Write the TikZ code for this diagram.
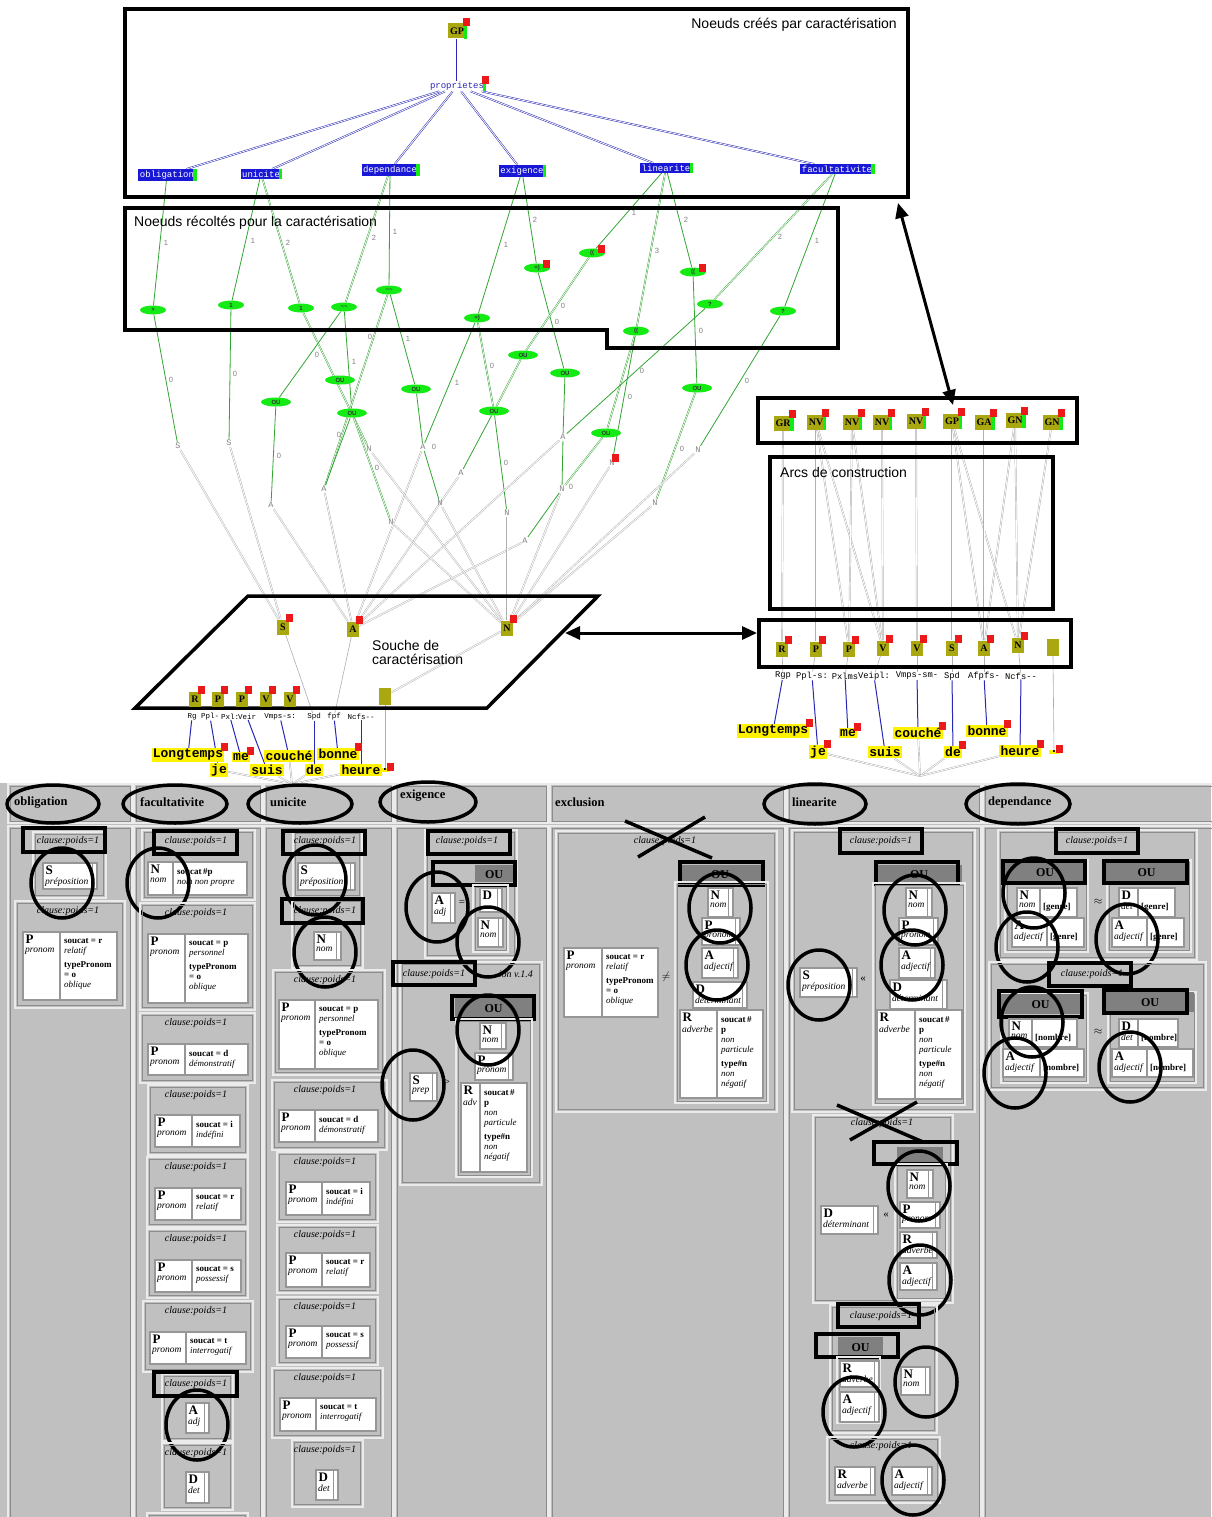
\documentclass[tikz,border=0pt]{standalone}
\usepackage{fontspec}
\setmainfont{Liberation Serif}
\setsansfont{Liberation Sans}
\setmonofont{Liberation Mono}
\usetikzlibrary{arrows.meta,shapes.geometric,calc}
\definecolor{olivebox}{RGB}{170,168,16}
\definecolor{bluebox}{RGB}{24,24,214}
\definecolor{nodegreen}{RGB}{20,235,20}
\definecolor{edgegreen}{RGB}{50,165,50}
\definecolor{badgered}{RGB}{235,25,25}
\definecolor{panelbg}{RGB}{192,192,192}
\definecolor{propblue}{RGB}{40,40,180}
\definecolor{greyline}{RGB}{175,175,175}
\definecolor{ougrey}{RGB}{128,128,128}
\definecolor{lightedge}{RGB}{235,235,235}
\definecolor{darkedge}{RGB}{140,140,140}
\definecolor{catedge}{RGB}{150,150,150}
\pgfdeclarelayer{bg}
\pgfsetlayers{bg,main}
\newcount\nc
\newcommand\nx{\global\advance\nc by 1\relax}
\tikzset{
 frame/.style={draw=black, line width=3.5pt},
 olv/.style={fill=olivebox, font=\bfseries\fontsize{10}{10}\selectfont, inner sep=2pt, minimum height=15pt, minimum width=12pt},
 prop/.style={text=propblue, font=\ttfamily\fontsize{9}{9}\selectfont, inner sep=1pt},
 bbox/.style={fill=bluebox, text=white, font=\ttfamily\fontsize{9}{9}\selectfont, inner sep=1.5pt},
 gnode/.style={ellipse, fill=nodegreen, minimum width=26pt, minimum height=9pt, inner sep=0pt, font=\sffamily\bfseries\fontsize{6}{6}\selectfont, text=black!80},
 ou/.style={gnode, minimum width=30pt},
 gletter/.style={text=gray, font=\ttfamily\fontsize{8.5}{9}\selectfont, inner sep=1pt},
 elab/.style={text=gray, font=\sffamily\fontsize{7.5}{7.5}\selectfont, inner sep=0pt},
 propl/.style={draw=propblue, line width=0.5pt, double=white, double distance=0.8pt},
 gedge/.style={draw=edgegreen, line width=0.8pt},
 gedged/.style={draw=edgegreen, line width=0.45pt, double=white, double distance=0.7pt},
 grline/.style={draw=greyline, line width=0.45pt, double=white, double distance=0.8pt},
 grsingle/.style={draw=greyline, line width=0.6pt},
 tagl/.style={draw=propblue, line width=1pt},
 title/.style={font=\sffamily\fontsize{14}{16}\selectfont, inner sep=0pt},
 word/.style={fill=yellow, font=\ttfamily\bfseries\fontsize{13}{13}\selectfont, inner sep=1.2pt},
 tagL/.style={font=\ttfamily\fontsize{7.5}{8}\selectfont, inner sep=0pt},
 tagR/.style={font=\ttfamily\fontsize{8.8}{9}\selectfont, inner sep=0pt},
 dblarrow/.style={draw=black, line width=3pt, {Triangle[length=15pt,width=13pt]}-{Triangle[length=15pt,width=13pt]}},
 catst/.style={fill=white, draw=catedge, line width=1.6pt},
 clst/.style={draw=lightedge, line width=1.2pt},
 clin/.style={draw=darkedge, line width=0.8pt},
 hl/.style={draw=black, line width=3.2pt},
 circ/.style={draw=black, line width=3.5pt},
 xcross/.style={draw=black, line width=3.5pt},
 cll/.style={font=\itshape\fontsize{10}{11}\selectfont, inner sep=0pt},
 catL/.style={font=\bfseries\fontsize{13}{13}\selectfont, inner sep=0pt},
 catW/.style={font=\itshape\fontsize{9.5}{10}\selectfont, inner sep=0pt},
 catR/.style={font=\fontsize{9}{10}\selectfont, align=left, inner sep=0pt},
 hdr/.style={font=\bfseries\fontsize{12.5}{13}\selectfont, inner sep=0pt},
 ouT/.style={font=\bfseries\fontsize{12}{12}\selectfont, inner sep=0pt},
 sym/.style={font=\fontsize{11}{11}\selectfont, inner sep=0pt}
}
\newcommand\bev[4]{\draw[lightedge, line width=1.2pt] (#1,#2) rectangle (#3,#4); \draw[darkedge, line width=0.8pt] ({#1+2},{#2+2}) rectangle ({#3-2},{#4-2});}
\newcommand\clbox[4]{\draw[clst] (#1,#2) rectangle (#3,#4); \draw[clin] ({#1+2.5},{#2+2.5}) rectangle ({#3-2.5},{#4-2.5});}
\newcommand\inbox[4]{\draw[clst] (#1,#2) rectangle (#3,#4); \draw[clin] ({#1+2},{#2+2}) rectangle ({#3-2},{#4-2});}
\newcommand\cllab[2]{\nx\node[cll] (c\the\nc) at (#1,#2) {clause:poids=1};}
\newcommand\hlr[4]{\draw[hl] (#1,#2) rectangle (#3,#4);}
\newcommand\circl[2]{\draw[circ] (#1,#2) ellipse [x radius=31pt, y radius=35pt];}
\newcommand\catbase[5]{\draw[catst] (#1,#2) rectangle (#3,#4); \draw[catedge, line width=1pt] ({#3-4.5},#2) -- ({#3-4.5},#4); \nx\node[catL, anchor=north west] (c\the\nc) at ({#1+2.5},{#2+2.5}) {#5};}
\newcommand\cat[6]{\catbase{#1}{#2}{#3}{#4}{#5}\nx\node[catW, anchor=north west] (c\the\nc) at ({#1+2},{#2+15}) {#6};}
\newcommand\cats[8]{\draw[catst] (#1,#2) rectangle (#3,#4); \draw[catedge, line width=1.6pt] (#5,#2) -- (#5,#4); \nx\node[catL, anchor=north west] (c\the\nc) at ({#1+2.5},{#2+3}) {#6}; \nx\node[catW, anchor=north west] (c\the\nc) at ({#1+2},{#2+16}) {#7}; \nx\node[catR, anchor=north west] (c\the\nc) at ({#5+4},{#2+6}) {#8};}
\newcommand\catg[8]{\draw[catst] (#1,#2) rectangle (#3,#4); \draw[catedge, line width=1.6pt] (#5,#2) -- (#5,#4); \nx\node[catL, anchor=north west] (c\the\nc) at ({#1+2.5},{#2+2.5}) {#6}; \nx\node[catW, anchor=north west] (c\the\nc) at ({#1+2},{#2+15}) {#7}; \nx\node[catR, anchor=west] (c\the\nc) at ({#5+3},{(#2+#4)/2+5}) {\textbf{#8}};}
\newcommand\ouh[5]{\fill[ougrey] (#1,#2) rectangle (#3,#4); \nx\node[ouT] (c\the\nc) at ({(#1+#3)/2},{(#2+#4)/2+1}) {#5};}
\newcommand\badge[1]{\fill[badgered] ($(#1.north east)+(-3.5,3)$) rectangle ++(7,-8);}
\newcommand\gbar[1]{\fill[nodegreen] ($(#1.north east)+(-2.5,0)$) rectangle ($(#1.south east)+(0.8,0)$);}
\newcommand\Rneg{\textbf{soucat\,\#}\\\textbf{p}\\\textit{non}\\\textit{particule}\\[4pt]\textbf{type\#n}\\\textit{non}\\\textit{négatif}}
\newcommand\Ppers[2]{\textbf{soucat = #1}\\\textit{#2}\\[4pt]\textbf{typePronom}\\\textbf{= o}\\\textit{oblique}}
\newcommand\Psimple[2]{\textbf{soucat = #1}\\\textit{#2}}
\begin{document}
\begin{tikzpicture}[x=1pt,y=-1pt]
\useasboundingbox (0,0) rectangle (1211,1517);
\begin{pgfonlayer}{bg}
\fill[white] (0,0) rectangle (1211,783);
\end{pgfonlayer}

% ===== frames and titles =====
\draw[frame] (125,9) rectangle (908,197);
\node[title, anchor=east] (t1) at (897,25) {Noeuds créés par caractérisation};
\draw[frame] (125,208) -- (838,208) -- (838,348) -- (607,348) -- (607,330) -- (125,330) -- cycle;
\node[title, anchor=west] (t2) at (134,223) {Noeuds récoltés pour la caractérisation};
\draw[frame] (248,596) -- (598,596) -- (487,708) -- (135,708) -- cycle;
\node[title, anchor=west, align=left, font=\sffamily\fontsize{14}{14}\selectfont] (t3) at (372,652) {Souche de\\caractérisation};
\draw[frame] (758,398) rectangle (1077,443);
\draw[frame] (770,457) rectangle (1053,609);
\node[title, anchor=west] (t4) at (780,472) {Arcs de construction};
\draw[frame] (759,620) rectangle (1071,667);
\coordinate (ar1a) at (898,203); \coordinate (ar1b) at (953,405);
\draw[dblarrow] (ar1a) -- (ar1b);
\coordinate (ar2a) at (565,633); \coordinate (ar2b) at (757,633);
\draw[dblarrow] (ar2a) -- (ar2b);

% ===== created nodes =====
\node[olv] (gp) at (457,31) {GP}; \gbar{gp}\badge{gp}
\node[prop] (prop) at (457,86) {proprietes}; \gbar{prop}\badge{prop}
\node[bbox] (ob) at (167,175) {obligation}; \gbar{ob}
\node[bbox] (un) at (261,174) {unicite}; \gbar{un}
\node[bbox] (dp) at (390,170) {dependance}; \gbar{dp}
\node[bbox] (ex) at (522,171) {exigence}; \gbar{ex}
\node[bbox] (li) at (666,168) {linearite}; \gbar{li}
\node[bbox] (fa) at (837,169) {facultativite}; \gbar{fa}

% ===== harvested nodes =====
\node[gnode] (g1) at (153,310) {+};
\node[gnode] (g2) at (231,305) {1};
\node[gnode] (g3) at (301,308) {1};
\node[gnode] (g4) at (344,307) {\textasciitilde\textasciitilde};
\node[gnode] (g5) at (389,290) {\textasciitilde\textasciitilde};
\node[gnode] (g6) at (477,318) {=)};
\node[gnode] (g7) at (537,268) {=)}; \badge{g7}
\node[gnode] (g8) at (592,253) {((}; \badge{g8}
\node[gnode] (g9) at (693,272) {((}; \badge{g9}
\node[gnode] (g10) at (710,304) {?};
\node[gnode] (g11) at (783,311) {?};
\node[gnode] (g12) at (636,331) {((};
\node[ou] (o1) at (523,355) {OU};
\node[ou] (o2) at (565,373) {OU};
\node[ou] (o3) at (340,380) {OU};
\node[ou] (o4) at (416,389) {OU};
\node[ou] (o5) at (276,402) {OU};
\node[ou] (o6) at (352,413) {OU};
\node[ou] (o7) at (494,411) {OU};
\node[ou] (o8) at (697,388) {OU};
\node[ou] (o9) at (606,433) {OU};
\node[gletter] (s1) at (178,446) {S};
\node[gletter] (s2) at (229,443) {S};
\node[gletter] (a1) at (271,505) {A};
\node[gletter] (a2) at (324,489) {A};
\node[gletter] (a3) at (423,447) {A};
\node[gletter] (a4) at (461,473) {A};
\node[gletter] (a5) at (563,437) {A};
\node[gletter] (a6) at (525,541) {A};
\node[gletter] (n1) at (369,449) {N};
\node[gletter] (n2) at (391,522) {N};
\node[gletter] (n3) at (440,503) {N};
\node[gletter] (n4) at (507,513) {N};
\node[gletter] (n5) at (562,489) {N};
\node[gletter] (n6) at (612,463) {N}; \badge{n6}
\node[gletter] (n7) at (698,450) {N};
\node[gletter] (n8) at (655,503) {N};
\foreach \x/\y/\t [count=\i] in {166/243/1, 253/241/1, 288/243/2, 374/238/2, 395/232/1, 506/245/1, 535/220/2, 634/213/1, 657/251/3, 686/220/2, 780/237/2, 817/241/1, 171/380/0, 235/374/0, 317/355/0, 370/337/0, 408/339/1, 354/362/1, 563/306/0, 557/322/0, 492/366/0, 457/383/1, 642/371/0, 630/397/0, 701/331/0, 747/381/0, 339/435/0, 682/449/0, 279/456/0, 377/468/0, 434/447/0, 506/463/0, 571/487/0}
  \node[elab] (lab\i) at (\x,\y) {\t};

% ===== souche =====
\node[olv] (sS) at (283,627) {S}; \badge{sS}
\node[olv] (sA) at (353,629) {A}; \badge{sA}
\node[olv] (sN) at (507,628) {N}; \badge{sN}
\node[olv] (sR) at (195,699) {R}; \badge{sR}
\node[olv] (sP1) at (218,699) {P}; \badge{sP1}
\node[olv] (sP2) at (242,699) {P}; \badge{sP2}
\node[olv] (sV1) at (266,699) {V}; \badge{sV1}
\node[olv] (sV2) at (290,699) {V}; \badge{sV2}
\fill[olivebox] (379,688) rectangle (391,705);
\coordinate (sDot) at (385,696);
\node[tagL] (lt1) at (192,717) {Rg};
\node[tagL] (lt2) at (210,717) {Ppl-};
\node[tagL] (lt3) at (230,717) {Pxl:};
\node[tagL] (lt4) at (247,717) {Veir};
\node[tagL] (lt5) at (280,717) {Vmps-s:};
\node[tagL] (lt6) at (314,717) {Spd};
\node[tagL] (lt7) at (334,717) {fpf};
\node[tagL] (lt8) at (361,717) {Ncfs--};
\node[word] (lw1) at (188,755) {Longtemps}; \badge{lw1}
\node[word] (lw3) at (241,757) {me}; \badge{lw3}
\node[word] (lw5) at (289,756) {couché};
\node[word] (lw7) at (338,754) {bonne}; \badge{lw7}
\node[word] (lw2) at (219,770) {je};
\node[word] (lw4) at (267,770) {suis};
\node[word] (lw6) at (314,770) {de};
\node[word] (lw8) at (361,770) {heure};
\node[word] (lw9) at (385,770) {.}; \badge{lw9}

% ===== right side =====
\node[olv] (tGR) at (783,423) {GR}; \gbar{tGR}\badge{tGR}
\node[olv] (tNV1) at (816,422) {NV}; \gbar{tNV1}\badge{tNV1}
\node[olv] (tNV2) at (852,422) {NV}; \gbar{tNV2}\badge{tNV2}
\node[olv] (tNV3) at (882,422) {NV}; \gbar{tNV3}\badge{tNV3}
\node[olv] (tNV4) at (916,421) {NV}; \gbar{tNV4}\badge{tNV4}
\node[olv] (tGP) at (952,421) {GP}; \gbar{tGP}\badge{tGP}
\node[olv] (tGA) at (984,422) {GA}; \gbar{tGA}\badge{tGA}
\node[olv] (tGN1) at (1015,420) {GN}; \gbar{tGN1}\badge{tGN1}
\node[olv] (tGN2) at (1052,422) {GN}; \gbar{tGN2}\badge{tGN2}
\node[olv] (bR) at (782,649) {R}; \badge{bR}
\node[olv] (bP1) at (816,649) {P}; \badge{bP1}
\node[olv] (bP2) at (849,649) {P}; \badge{bP2}
\node[olv] (bV1) at (883,648) {V}; \badge{bV1}
\node[olv] (bV2) at (917,648) {V}; \badge{bV2}
\node[olv] (bS) at (952,648) {S}; \badge{bS}
\node[olv] (bA) at (984,648) {A}; \badge{bA}
\node[olv] (bN) at (1018,645) {N}; \badge{bN}
\fill[olivebox] (1047,639) rectangle (1059,656);
\coordinate (bDot) at (1053,656);
\node[tagR] (rt1) at (783,676) {Rgp};
\node[tagR] (rt2) at (812,676) {Ppl-s:};
\node[tagR] (rt3) at (845,676) {Pxlms};
\node[tagR] (rt4) at (874,676) {Veipl:};
\node[tagR] (rt5) at (917,676) {Vmps-sm-};
\node[tagR] (rt6) at (952,676) {Spd};
\node[tagR] (rt7) at (984,676) {Afpfs-};
\node[tagR] (rt8) at (1021,676) {Ncfs--};
\node[word] (rw1) at (773,731) {Longtemps}; \badge{rw1}
\node[word] (rw3) at (848,733) {me}; \badge{rw3}
\node[word] (rw5) at (918,733) {couché}; \badge{rw5}
\node[word] (rw7) at (987,731) {bonne}; \badge{rw7}
\node[word] (rw2) at (818,752) {je}; \badge{rw2}
\node[word] (rw4) at (885,752) {suis};
\node[word] (rw6) at (953,752) {de}; \badge{rw6}
\node[word] (rw8) at (1020,751) {heure}; \badge{rw8}
\node[word] (rw9) at (1054,752) {.}; \badge{rw9}
\coordinate (lc) at (292,784);
\coordinate (rc) at (920,776);

% ===== connectors (behind) =====
\begin{pgfonlayer}{bg}
\draw[propl] (gp) -- (prop);
\foreach \t in {ob,un,dp,ex,li,fa} \draw[propl] (prop) -- (\t);
\draw[gedge] (ob) -- (g1);
\draw[gedge] (g1) -- (s1);
\draw[gedge] (un) -- (g2);
\draw[gedge] (g2) -- (s2);
\draw[gedged] (un) -- (g3);
\draw[gedged] (g3) -- (n1);
\draw[gedged] (dp) -- (g4);
\draw[gedge] (dp) -- (g5);
\draw[gedge] (g4) -- (o5);
\draw[gedge] (g4) -- (o6);
\draw[gedge] (g5) -- (o4);
\draw[gedged] (g5) -- (a2);
\draw[gedged] (o6) -- (n2);
\draw[gedge] (o6) -- (a2);
\draw[gedge] (o5) -- (a1);
\draw[gedge] (o4) -- (a3);
\draw[gedge] (a3) -- (n3);
\draw[gedge] (a3) -- (g6);
\draw[gedge] (ex) -- (g6);
\draw[gedge] (ex) -- (g7);
\draw[gedged] (g6) -- (o7);
\draw[gedge] (g7) -- (o2);
\draw[gedged] (g8) -- (o1);
\draw[gedged] (o1) -- (o7);
\draw[gedge] (o7) -- (a4);
\draw[gedge] (o7) -- (n4);
\draw[gedge] (li) -- (g8);
\draw[gedged] (li) -- (g12);
\draw[gedge] (li) -- (g9);
\draw[gedge] (g9) -- (o8);
\draw[gedged] (o8) -- (n8);
\draw[gedged] (g12) -- (o9);
\draw[gedge] (g12) -- (n6);
\draw[gedged] (o9) -- (n5);
\draw[gedge] (n5) -- (a6);
\draw[gedged] (fa) -- (g10);
\draw[gedge] (fa) -- (g11);
\draw[gedge] (g10) -- (a5);
\draw[gedge] (g11) -- (n7);
\draw[gedge] (o2) -- (a5);
\draw[gedge] (a5) -- (n5);
\foreach \f in {s1,s2} \draw[grline] (\f) -- (sS);
\foreach \f in {a1,a2,a3,a4,a5,a6} \draw[grline] (\f) -- (sA);
\foreach \f in {n1,n2,n3,n4,n5,n6,n7,n8} \draw[grline] (\f) -- (sN);
\draw[grline] (sN) -- (sDot);
\draw[grsingle] (sS) -- (lt6);
\draw[grsingle] (sA) -- (lt7);
\draw[grsingle] (sDot) -- (lw9);
\foreach \a/\b in {lt1/lw1,lt2/lw2,lt3/lw3,lt4/lw4,lt5/lw5,lt6/lw6,lt7/lw7,lt8/lw8} \draw[tagl] (\a) -- (\b);
\foreach \f in {lw2,lw4,lw5,lw6,lw8} \draw[grline] (\f) -- (lc);
\foreach \a/\b in {tGR/bR,tNV1/bP1,tNV1/bP2,tNV1/bV1,tNV2/bP2,tNV2/bV1,tNV3/bV1,tNV4/bV2,tGP/bS,tGP/bA,tGP/bN,tGA/bA,tGN1/bA,tGN1/bN,tGN2/bN} \draw[grline] (\a) -- (\b);
\foreach \a/\b in {bR/rt1,bP1/rt2,bP2/rt3,bV1/rt4,bV2/rt5,bS/rt6,bA/rt7,bN/rt8} \draw[grsingle] (\a) -- (\b);
\foreach \a/\b in {rt1/rw1,rt2/rw2,rt3/rw3,rt4/rw4,rt5/rw5,rt6/rw6,rt7/rw7,rt8/rw8} \draw[tagl] (\a) -- (\b);
\draw[grsingle] (bDot) -- (rw9);
\foreach \f in {rw2,rw4,rw5,rw6,rw8} \draw[grline] (\f) -- (rc);
\end{pgfonlayer}

% ===== bottom panel =====
\fill[panelbg] (0,783) rectangle (1211,1517);
\foreach \a/\b in {8/132, 134/262, 264/393, 395/548, 550/785, 787/981, 983/1214} {\bev{\a}{784}{\b}{823}\bev{\a}{826}{\b}{1525}}
\node[hdr, anchor=west] (h1) at (14,803) {obligation};
\node[hdr, anchor=west] (h2) at (140,802) {facultativite};
\node[hdr, anchor=west] (h3) at (270,802) {unicite};
\node[hdr, anchor=west] (h4) at (400,796) {exigence};
\node[hdr, anchor=west] (h5) at (555,802) {exclusion};
\node[hdr, anchor=west] (h6) at (792,802) {linearite};
\node[hdr, anchor=west] (h7) at (988,802) {dependance};
\draw[circ] (53,804) ellipse [x radius=46pt, y radius=19pt];
\draw[circ] (175,804) ellipse [x radius=52pt, y radius=19pt];
\draw[circ] (300,804) ellipse [x radius=52pt, y radius=19pt];
\draw[circ] (428,802) ellipse [x radius=48pt, y radius=20pt];
\draw[circ] (815,804) ellipse [x radius=51pt, y radius=20pt];
\draw[circ] (1018,804) ellipse [x radius=52pt, y radius=20pt];

% obligation
\clbox{33}{832}{106}{898}\cllab{68}{841}
\cat{43}{863}{97}{889}{S}{préposition}
\clbox{15}{901}{125}{1008}\cllab{68}{911}
\cats{23}{932}{117}{1000}{60}{P}{pronom}{\Ppers{r}{relatif}}
\hlr{23}{828}{105}{852}
\circl{62}{883}

% facultativite
\clbox{142}{830}{255}{900}\cllab{196}{841}
\cats{148}{862}{247}{895}{173}{N}{nom}{\textbf{soucat\,\#p}\\\textit{nom non propre}}
\hlr{154}{831}{237}{854}
\circl{158}{883}
\clbox{140}{903}{255}{1010}\cllab{196}{913}
\cats{148}{934}{248}{1003}{185}{P}{pronom}{\Ppers{p}{personnel}}
\clbox{140}{1013}{255}{1083}\cllab{196}{1023}
\cats{148}{1044}{248}{1075}{185}{P}{pronom}{\Psimple{d}{démonstratif}}
\clbox{148}{1085}{248}{1155}\cllab{196}{1095}
\cats{155}{1115}{240}{1147}{192}{P}{pronom}{\Psimple{i}{indéfini}}
\clbox{147}{1157}{248}{1227}\cllab{196}{1167}
\cats{155}{1188}{241}{1220}{192}{P}{pronom}{\Psimple{r}{relatif}}
\clbox{147}{1229}{248}{1298}\cllab{196}{1239}
\cats{155}{1260}{241}{1292}{192}{P}{pronom}{\Psimple{s}{possessif}}
\clbox{143}{1301}{253}{1372}\cllab{196}{1311}
\cats{150}{1332}{246}{1364}{186}{P}{pronom}{\Psimple{t}{interrogatif}}
\clbox{162}{1374}{233}{1441}\cllab{196}{1384}
\cat{186}{1403}{209}{1433}{A}{adj}
\hlr{154}{1372}{237}{1396}
\circl{197}{1425}
\clbox{162}{1443}{233}{1510}\cllab{196}{1453}
\cat{186}{1472}{209}{1503}{D}{det}
\clbox{147}{1513}{248}{1540}

% unicite
\clbox{293}{831}{362}{898}\cllab{325}{841}
\cat{298}{863}{355}{890}{S}{préposition}
\hlr{283}{831}{365}{854}
\circl{315}{880}
\clbox{292}{899}{363}{968}\cllab{325}{911}
\cat{314}{932}{341}{960}{N}{nom}
\hlr{282}{899}{363}{923}
\circl{325}{952}
\clbox{273}{970}{385}{1075}\cllab{325}{980}
\cats{279}{1000}{378}{1069}{315}{P}{pronom}{\Ppers{p}{personnel}}
\clbox{272}{1080}{387}{1150}\cllab{325}{1090}
\cats{279}{1110}{378}{1142}{315}{P}{pronom}{\Psimple{d}{démonstratif}}
\clbox{277}{1152}{378}{1222}\cllab{325}{1162}
\cats{286}{1182}{370}{1215}{322}{P}{pronom}{\Psimple{i}{indéfini}}
\clbox{277}{1225}{378}{1293}\cllab{325}{1235}
\cats{286}{1253}{370}{1287}{322}{P}{pronom}{\Psimple{r}{relatif}}
\clbox{277}{1297}{378}{1365}\cllab{325}{1307}
\cats{286}{1326}{370}{1358}{322}{P}{pronom}{\Psimple{s}{possessif}}
\clbox{272}{1368}{383}{1438}\cllab{325}{1378}
\cats{280}{1398}{376}{1431}{316}{P}{pronom}{\Psimple{t}{interrogatif}}
\clbox{292}{1440}{363}{1507}\cllab{325}{1450}
\cat{316}{1470}{338}{1500}{D}{det}

% exigence
\clbox{425}{830}{517}{958}\cllab{467}{841}
\hlr{428}{831}{510}{854}
\ouh{475}{865}{513}{882}{OU}
\hlr{433}{862}{515}{885}
\inbox{473}{885}{508}{952}
\catbase{480}{888}{502}{912}{D}
\cat{478}{918}{503}{947}{N}{nom}
\cat{432}{893}{455}{923}{A}{adj}
\node[sym] (eq1) at (462,903) {=};
\circl{437}{907}
\circl{488}{942}
\clbox{400}{962}{542}{1185}
\cllab{434}{974}
\node[cll, anchor=east] (ver) at (533,974) {ion v.1.4};
\hlr{393}{962}{475}{985}
\ouh{455}{998}{532}{1017}{OU}
\hlr{452}{996}{534}{1019}
\inbox{456}{1019}{532}{1177}
\cat{480}{1023}{506}{1049}{N}{nom}
\cat{475}{1053}{513}{1080}{P}{pronom}
\cats{461}{1083}{527}{1172}{480}{R}{adv}{\Rneg}
\cat{410}{1073}{437}{1101}{S}{prep}
\node[sym] (gt1) at (447,1082) {>};
\circl{413}{1085}
\circl{488}{1030}

% exclusion
\clbox{556}{831}{777}{1112}\cllab{665}{841}
\draw[xcross] (625,821) -- (712,858);
\draw[xcross] (638,857) -- (705,817);
\cats{564}{948}{658}{1017}{602}{P}{pronom}{\Ppers{r}{relatif}}
\node[sym] (neq1) at (666,977) {$\neq$};
\ouh{678}{865}{762}{882}{OU}
\hlr{680}{862}{763}{885}
\inbox{675}{882}{768}{1103}
\cat{708}{888}{733}{917}{N}{nom}
\cat{702}{918}{740}{945}{P}{pronom}
\cat{702}{948}{738}{978}{A}{adjectif}
\cat{693}{982}{747}{1008}{D}{déterminant}
\cats{680}{1010}{763}{1098}{717}{R}{adverbe}{\Rneg}
\circl{720}{908}
\circl{717}{965}

% linearite
\clbox{792}{830}{975}{1112}\cllab{881}{841}
\hlr{840}{829}{922}{853}
\cat{800}{968}{857}{997}{S}{préposition}
\node[sym] (ll1) at (863,979) {«};
\circl{819}{985}
\ouh{876}{865}{962}{882}{OU}
\hlr{876}{862}{958}{884}
\inbox{873}{883}{965}{1105}
\cat{906}{888}{932}{917}{N}{nom}
\cat{899}{918}{938}{945}{P}{pronom}
\cat{899}{948}{935}{978}{A}{adjectif}
\cat{890}{980}{947}{1009}{D}{déterminant}
\cats{877}{1010}{962}{1099}{915}{R}{adverbe}{\Rneg}
\circl{915}{910}
\circl{912}{965}
\clbox{813}{1115}{953}{1303}\cllab{882}{1123}
\draw[xcross] (837,1105) -- (923,1142);
\draw[xcross] (850,1140) -- (917,1102);
\fill[ougrey] (897,1147) rectangle (943,1162);
\hlr{874}{1142}{957}{1164}
\inbox{895}{1164}{947}{1300}
\cat{907}{1170}{933}{1198}{N}{nom}
\cat{900}{1202}{940}{1228}{P}{pronom}
\cat{900}{1232}{937}{1258}{R}{adverbe}
\cat{900}{1263}{937}{1290}{A}{adjectif}
\cat{821}{1206}{878}{1234}{D}{déterminant}
\node[sym] (ll2) at (886,1215) {«};
\circl{919}{1186}
\circl{920}{1280}
\clbox{830}{1305}{937}{1433}\cllab{881}{1316}
\hlr{838}{1304}{919}{1327}
\ouh{838}{1337}{883}{1356}{OU}
\hlr{816}{1334}{898}{1357}
\inbox{837}{1357}{880}{1423}
\cat{840}{1361}{879}{1387}{R}{adverbe}
\cat{840}{1392}{879}{1422}{A}{adjectif}
\cat{901}{1367}{930}{1395}{N}{nom}
\circl{854}{1412}
\circl{926}{1382}
\clbox{827}{1437}{940}{1503}\cllab{881}{1446}
\cat{835}{1467}{875}{1495}{R}{adverbe}
\cat{892}{1467}{932}{1495}{A}{adjectif}
\circl{913}{1480}

% dependance
\clbox{998}{830}{1197}{960}\cllab{1097}{841}
\hlr{1056}{829}{1138}{853}
\inbox{1005}{860}{1088}{952}
\ouh{1005}{862}{1085}{882}{OU}
\hlr{1003}{861}{1085}{883}
\catg{1017}{888}{1077}{917}{1040}{N}{nom}{[genre]}
\catg{1012}{918}{1084}{947}{1047}{A}{adjectif}{[genre]}
\node[sym] (ap1) at (1098,902) {$\approx$};
\inbox{1107}{860}{1191}{952}
\ouh{1106}{862}{1187}{882}{OU}
\hlr{1104}{861}{1187}{883}
\catg{1119}{888}{1175}{917}{1138}{D}{det}{[genre]}
\catg{1112}{918}{1184}{947}{1147}{A}{adjectif}{[genre]}
\circl{1034}{893}
\circl{1027}{947}
\circl{1127}{939}
\clbox{989}{962}{1206}{1090}\cllab{1092}{974}
\hlr{1049}{963}{1131}{986}
\inbox{1001}{993}{1088}{1083}
\ouh{1001}{994}{1080}{1014}{OU}
\hlr{999}{991}{1082}{1017}
\catg{1009}{1019}{1077}{1047}{1032}{N}{nom}{[nombre]}
\catg{1003}{1049}{1084}{1077}{1040}{A}{adjectif}{[nombre]}
\node[sym] (ap2) at (1098,1032) {$\approx$};
\inbox{1108}{992}{1196}{1083}
\ouh{1106}{992}{1194}{1012}{OU}
\hlr{1104}{990}{1187}{1013}
\catg{1119}{1019}{1178}{1047}{1138}{D}{det}{[nombre]}
\catg{1112}{1049}{1193}{1077}{1147}{A}{adjectif}{[nombre]}
\circl{1032}{1022}
\circl{1015}{1073}
\circl{1130}{1067}
\end{tikzpicture}
\end{document}
